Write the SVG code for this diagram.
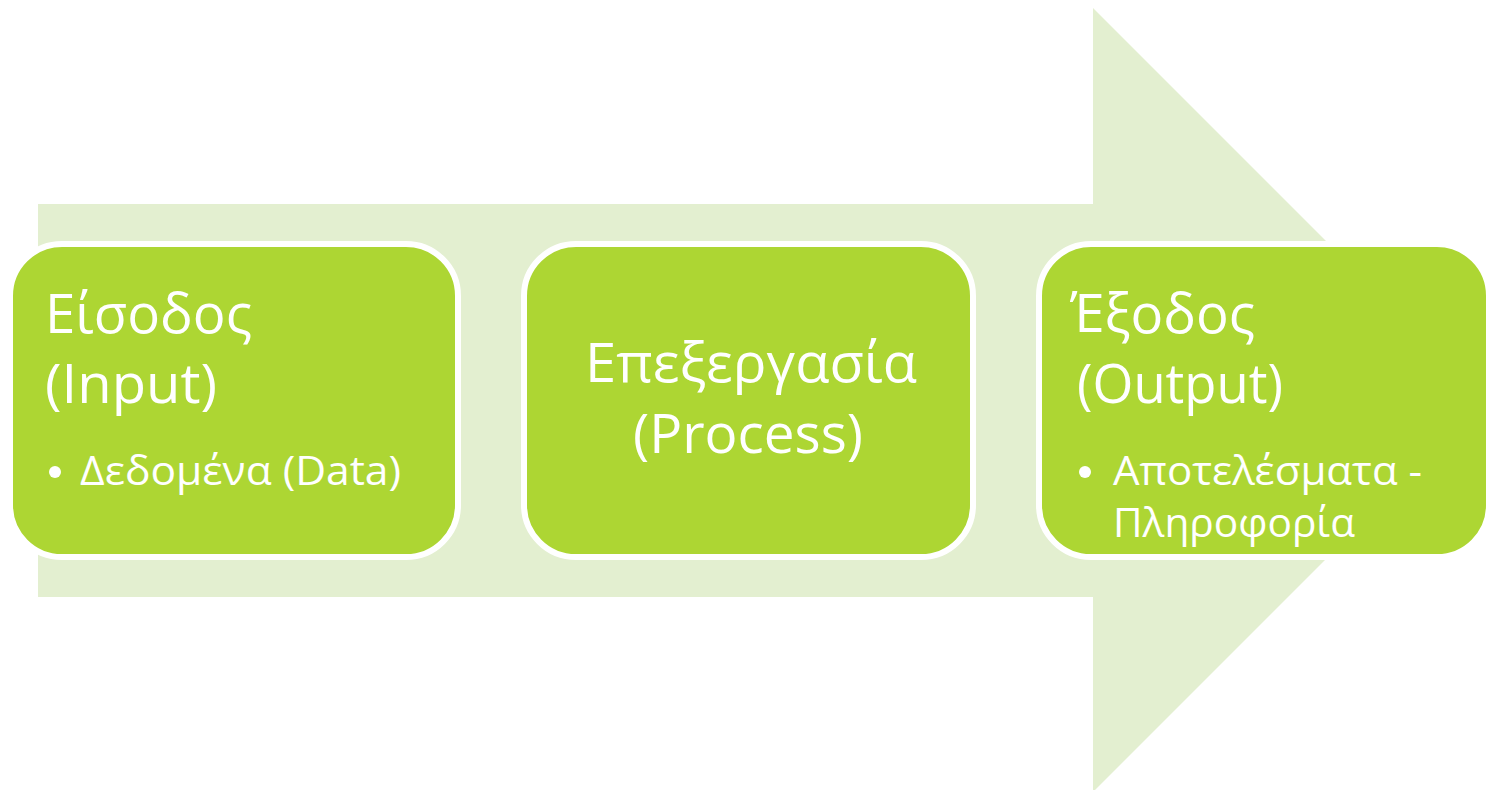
<svg xmlns="http://www.w3.org/2000/svg" width="1487" height="790" viewBox="0 0 1487 790">
<style>
.box{fill:#ADD633;stroke:#FFFFFF;stroke-width:6}
.t{fill:#FFFFFF;font-family:"Open Sans","Noto Sans","Liberation Sans",sans-serif}
.big{font-size:55px}
.small{font-size:40px}
.bul{fill:#FFFFFF}
</style>
<rect width="1487" height="790" fill="#FFFFFF"/>
<g id="arrow">
<polygon points="38,204 1093,204 1093,8 1485,400 1093,792 1093,597 38,597" fill="#E3EFD0"/>
</g>
<g id="connectors"></g>
<g id="node-input">
<rect class="box" x="10" y="244" width="448" height="313" rx="52"/>
<text class="t big" x="45" y="333" textLength="207" lengthAdjust="spacingAndGlyphs">Είσοδος</text>
<text class="t big" x="45" y="403" textLength="172" lengthAdjust="spacingAndGlyphs">(Input)</text>
<circle class="bul" cx="55" cy="472" r="6"/>
<text class="t small" x="80" y="485" textLength="321" lengthAdjust="spacingAndGlyphs">Δεδομένα (Data)</text>
</g>
<g id="node-process">
<rect class="box" x="524" y="244" width="449" height="313" rx="52"/>
<text class="t big" x="585" y="382" textLength="332" lengthAdjust="spacingAndGlyphs">Επεξεργασία</text>
<text class="t big" x="633" y="453" textLength="230" lengthAdjust="spacingAndGlyphs">(Process)</text>
</g>
<g id="node-output">
<rect class="box" x="1039" y="244" width="450" height="313" rx="52"/>
<text class="t big" x="1070" y="333" textLength="185" lengthAdjust="spacingAndGlyphs">Έξοδος</text>
<text class="t big" x="1077" y="403" textLength="206" lengthAdjust="spacingAndGlyphs">(Output)</text>
<circle class="bul" cx="1085" cy="472" r="6"/>
<text class="t small" x="1113" y="485" textLength="309" lengthAdjust="spacingAndGlyphs">Αποτελέσματα -</text>
<text class="t small" x="1113" y="537" textLength="242" lengthAdjust="spacingAndGlyphs">Πληροφορία</text>
</g>
</svg>
